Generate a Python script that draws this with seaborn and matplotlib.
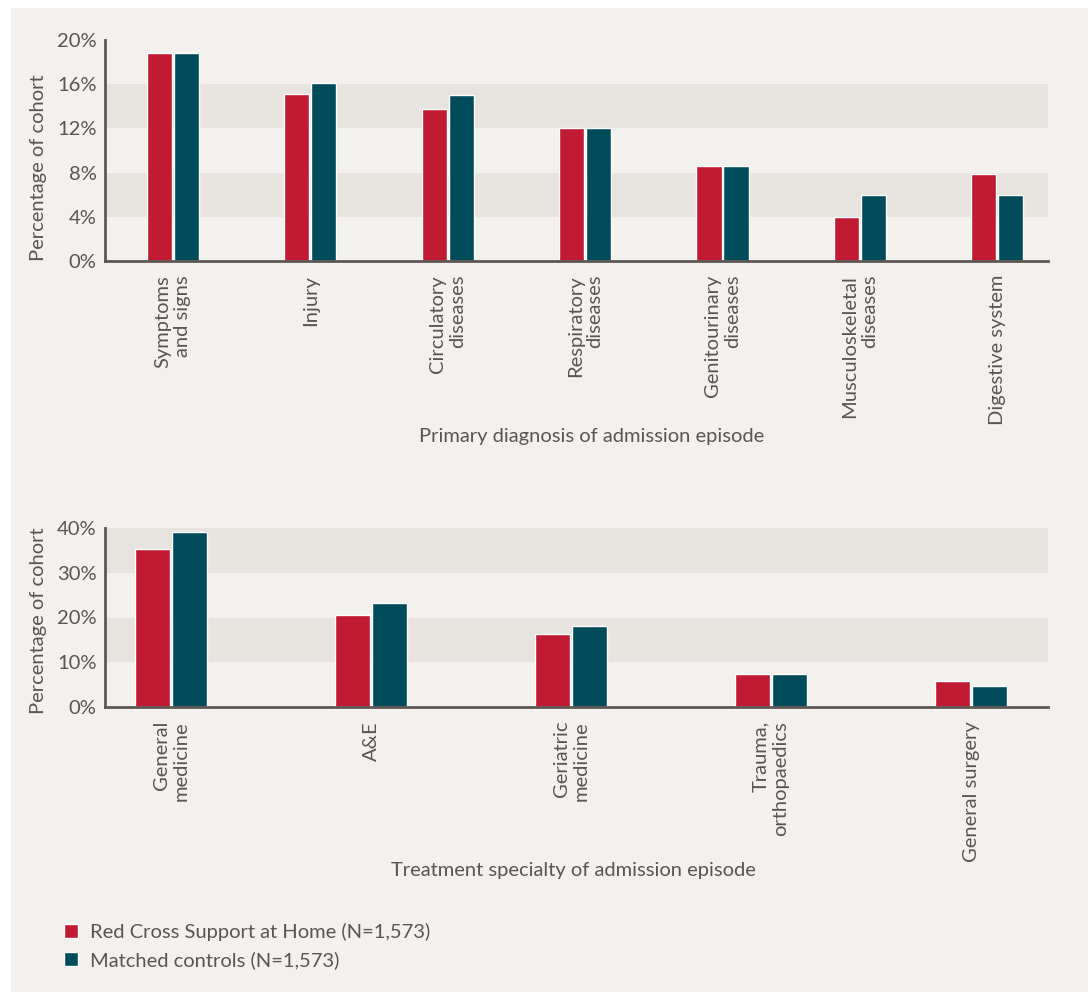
import pandas as pd
import seaborn as sns
import matplotlib.pyplot as plt
from matplotlib.patches import Rectangle

sns.set_theme(style='white')
plt.rcParams['font.family'] = ['Lato', 'DejaVu Sans']

# data (percent of cohort)
groups = ['Red Cross Support at Home (N=1,573)', 'Matched controls (N=1,573)']

diag_labels = ['Symptoms\nand signs', 'Injury', 'Circulatory\ndiseases', 'Respiratory\ndiseases',
               'Genitourinary\ndiseases', 'Musculoskeletal\ndiseases', 'Digestive system']
diag_redcross = [18.8, 15.1, 13.8, 12.0, 8.6, 4.0, 7.9]
diag_controls = [18.8, 16.1, 15.0, 12.0, 8.6, 6.0, 6.0]

spec_labels = ['General\nmedicine', 'A&E', 'Geriatric\nmedicine', 'Trauma,\northopaedics', 'General surgery']
spec_redcross = [35.3, 20.6, 16.4, 7.4, 5.7]
spec_controls = [39.1, 23.3, 18.1, 7.4, 4.8]

RED = '#C01B33'
TEAL = '#004C5A'
PANEL = '#F3F1ED'
BAND = '#E7E3DE'
TXT = '#5B5451'
SPINE = '#5E5754'
FS = 14.5


def long_df(labels, a, b):
    return pd.DataFrame({
        'category': labels * 2,
        'value': a + b,
        'group': [groups[0]] * len(labels) + [groups[1]] * len(labels),
    })


df_diag = long_df(diag_labels, diag_redcross, diag_controls)
df_spec = long_df(spec_labels, spec_redcross, spec_controls)

fig = plt.figure(figsize=(10.9, 9.92), dpi=100)
fig.patch.set_facecolor('white')
fig.patches.append(Rectangle((11 / 1090, 0), 1 - 13 / 1090, 1 - 8 / 992,
                             transform=fig.transFigure, facecolor=PANEL, edgecolor='none', zorder=-10))

ax1 = fig.add_axes([105 / 1090, 1 - 261 / 992, 943 / 1090, 221 / 992])
ax2 = fig.add_axes([105 / 1090, 1 - 707 / 992, 943 / 1090, 179 / 992])


def style_axis(ax, data, ymax, step, bands, xlim, width, gap, ylab_y, xlab_x, xlab_y, xlabel):
    sns.barplot(data=data, x='category', y='value', hue='group', palette=[RED, TEAL],
                width=width, gap=gap, ax=ax, saturation=1, legend=True)
    ax.set_facecolor('none')
    for lo, hi in bands:
        ax.axhspan(lo, hi, color=BAND, zorder=0, lw=0)
    ax.set_ylim(0, ymax)
    ax.set_xlim(*xlim)
    ax.set_yticks(range(0, ymax + 1, step))
    ax.set_yticklabels([f'{v}%' for v in range(0, ymax + 1, step)])
    ax.tick_params(axis='both', length=0, colors=TXT, labelsize=FS)
    ax.tick_params(axis='y', pad=6)
    ax.tick_params(axis='x', pad=10)
    for lbl in ax.get_xticklabels():
        lbl.set_rotation(90)
        lbl.set_ha('center')
        lbl.set_va('top')
        lbl.set_multialignment('right')
    for s in ['top', 'right']:
        ax.spines[s].set_visible(False)
    for s in ['left', 'bottom']:
        ax.spines[s].set_color(SPINE)
        ax.spines[s].set_linewidth(2)
    ax.set_ylabel('Percentage of cohort', color=TXT, fontsize=FS)
    ax.yaxis.set_label_coords(-0.062, ylab_y)
    ax.set_xlabel(xlabel, color=TXT, fontsize=FS)
    ax.xaxis.set_label_coords(xlab_x, xlab_y)
    ax.get_legend().remove()


style_axis(ax1, df_diag, 20, 4, [(4, 8), (12, 16)], (-0.495, 6.37), 0.394, 0.07,
           0.423, 0.516, -0.756, 'Primary diagnosis of admission episode')
style_axis(ax2, df_spec, 40, 10, [(10, 20), (30, 40)], (-0.33, 4.385), 0.37, 0.05,
           0.48, 0.497, -0.866, 'Treatment specialty of admission episode')

handles, labels = ax1.get_legend_handles_labels()
fig.legend(handles, groups, loc='upper left', bbox_to_anchor=(56 / 1090, 1 - 915 / 992),
           frameon=False, fontsize=FS, labelcolor=TXT, handlelength=0.7, handleheight=0.7,
           handletextpad=0.6, labelspacing=0.5, borderaxespad=0)

fig.savefig('out.png', dpi=100, facecolor=fig.get_facecolor())
